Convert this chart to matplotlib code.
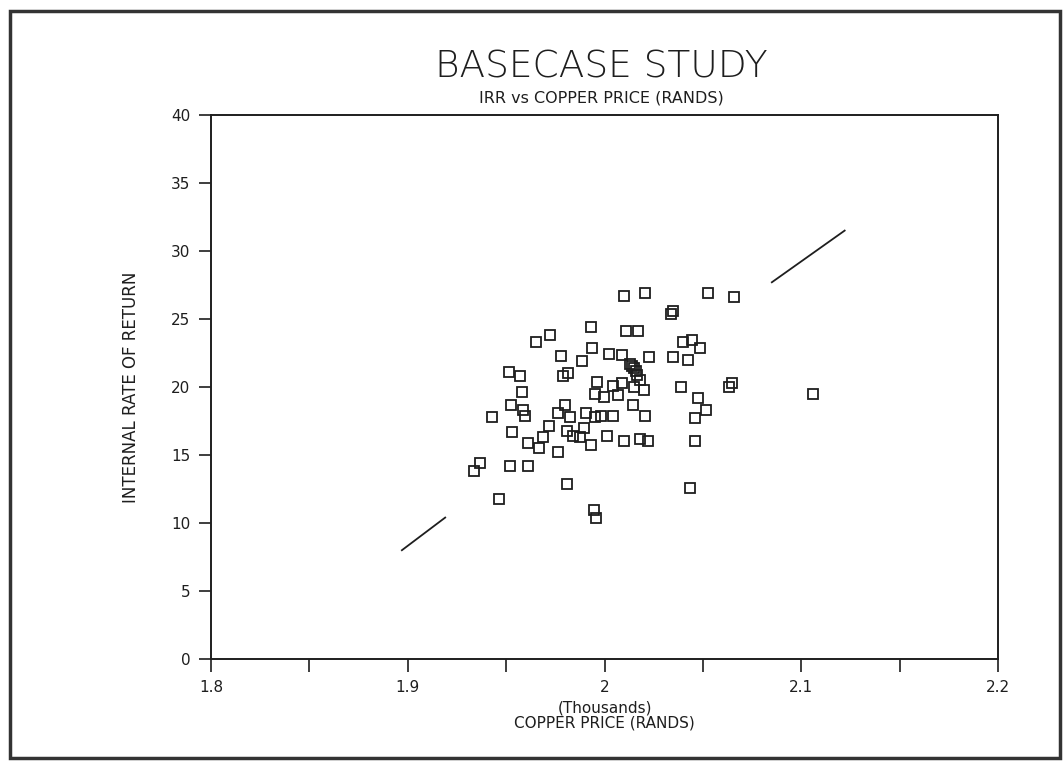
"""
Basecase study - IRR vs copper price scatter
"""

import numpy as np
import matplotlib
matplotlib.use('Agg')
import matplotlib.pyplot as plt
from matplotlib.patches import Rectangle

# ====================
# DATA (copper price in thousands of rands, IRR in %)
# ====================
copper_price = [
    2.010, 2.0205, 2.0524, 2.0658, 2.0335, 2.0350, 1.993, 2.0107, 2.0171, 1.9722,
    1.9654, 2.040, 2.0443, 2.0485, 1.9934, 1.978, 1.9886, 2.0022, 2.0087, 2.0227,
    2.0346, 2.0425, 2.0129, 2.0140, 2.015, 2.0158, 2.0166, 2.018, 1.9515, 1.957,
    1.979, 1.9815, 1.9959, 2.0044, 2.0087, 2.015, 2.020, 2.039, 2.063, 2.0646,
    1.958, 2.106, 1.9951, 1.9998, 2.0069, 2.0476, 1.9522, 1.9798, 2.0142, 2.0515,
    1.9586, 1.9595, 1.943, 1.9764, 1.9823, 1.9908, 1.9951, 1.998, 2.0044, 2.0205,
    2.046, 1.9718, 1.9895, 1.9527, 1.9810, 1.984, 1.9874, 1.9685, 2.0013, 1.9611,
    1.9667, 1.9929, 2.010, 2.018, 2.0222, 2.046, 1.9764, 1.9366, 1.9335, 1.9518,
    1.9611, 1.9807, 2.0434, 1.9465, 1.9944, 1.9958,
]
irr = [
    26.7, 26.9, 26.9, 26.6, 25.4, 25.6, 24.4, 24.1, 24.1, 23.8,
    23.3, 23.3, 23.45, 22.85, 22.9, 22.3, 21.9, 22.4, 22.35, 22.2,
    22.2, 22.0, 21.7, 21.55, 21.4, 21.15, 20.9, 20.5, 21.1, 20.8,
    20.8, 21.0, 20.4, 20.1, 20.3, 20.0, 19.8, 20.0, 20.0, 20.3,
    19.6, 19.5, 19.5, 19.3, 19.4, 19.2, 18.7, 18.7, 18.7, 18.3,
    18.3, 17.9, 17.8, 18.1, 17.8, 18.1, 17.8, 17.9, 17.9, 17.9,
    17.75, 17.1, 17.0, 16.7, 16.75, 16.4, 16.35, 16.3, 16.4, 15.9,
    15.5, 15.7, 16.0, 16.2, 16.0, 16.0, 15.2, 14.4, 13.8, 14.2,
    14.2, 12.85, 12.55, 11.75, 10.95, 10.35,
]

# trend line, drawn only at both ends as in the original print
trend_low_x = [1.897, 1.919]
trend_low_y = [8.0, 10.4]
trend_high_x = [2.085, 2.122]
trend_high_y = [27.7, 31.5]

x_ticks = [1.8, 1.85, 1.9, 1.95, 2.0, 2.05, 2.1, 2.15, 2.2]
x_tick_labels = ['1.8', '', '1.9', '', '2', '', '2.1', '', '2.2']
y_ticks = [0, 5, 10, 15, 20, 25, 30, 35, 40]

ink = '#1e1e1e'

# ====================
# PLOT
# ====================
fig = plt.figure(figsize=(10.63, 7.64), dpi=100)
ax = fig.add_axes([0.1985, 0.1374, 0.7405, 0.7121])

ax.plot(copper_price, irr, linestyle='none', marker='s', markersize=7.3,
        markerfacecolor='none', markeredgecolor=ink, markeredgewidth=1.3)
ax.plot(trend_low_x, trend_low_y, color=ink, linewidth=1.3)
ax.plot(trend_high_x, trend_high_y, color=ink, linewidth=1.3)

ax.set_xlim(1.8, 2.2)
ax.set_ylim(0, 40)
ax.set_xticks(x_ticks)
ax.set_xticklabels(x_tick_labels)
ax.set_yticks(y_ticks)

for s in ax.spines.values():
    s.set_linewidth(1.4)
    s.set_color(ink)
ax.tick_params(axis='both', direction='out', length=9, width=1.2, color=ink,
               labelsize=11, labelcolor=ink, pad=6)

ax.set_xlabel('(Thousands)\nCOPPER PRICE (RANDS)', fontsize=11, color=ink,
              linespacing=1.0, labelpad=4)
ax.set_ylabel('INTERNAL RATE OF RETURN', fontsize=12, color=ink, labelpad=22)

fig.text(0.566, 0.912, 'BASECASE STUDY', ha='center', va='center',
         fontsize=27, color=ink, fontweight='light')
fig.text(0.566, 0.872, 'IRR vs COPPER PRICE (RANDS)', ha='center', va='center',
         fontsize=11.5, color=ink)

# outer frame around the whole page
fig.patches.append(Rectangle((0.009, 0.008), 0.988, 0.977, transform=fig.transFigure,
                             fill=False, edgecolor='#333333', linewidth=2.5))

fig.savefig('out.png', dpi=100)
